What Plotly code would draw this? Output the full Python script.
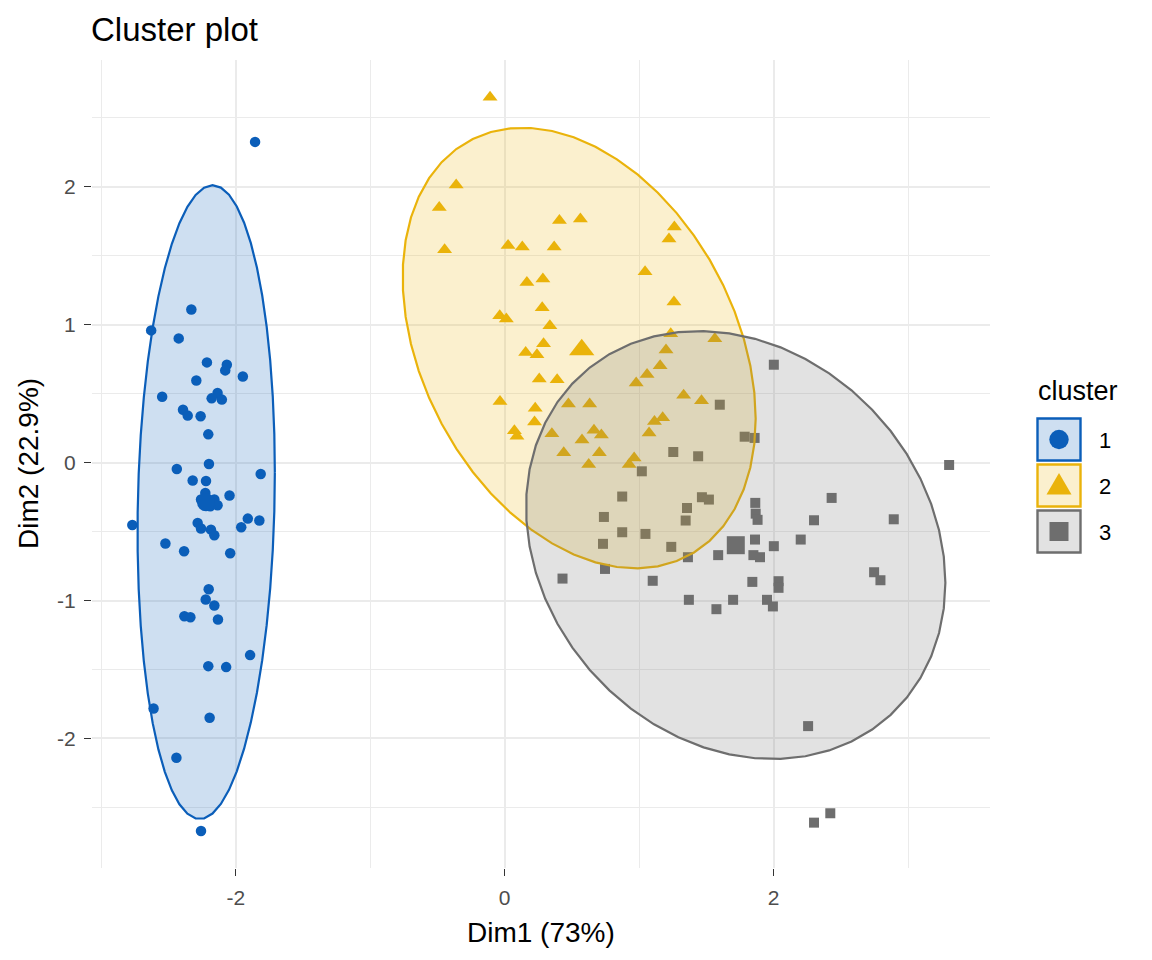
import numpy as np
import plotly.graph_objects as go

# ---------------- data ----------------
c1_x = [-1.857, -2.331, -2.630, -2.425, -2.215, -2.067, -2.079, -1.948, -2.294, -2.548,
        -2.136, -2.180, -2.104, -2.393, -2.358, -2.262, -2.205, -2.200, -2.439, -1.815,
        -2.321, -2.222, -2.227, -2.047, -2.160, -2.136, -2.259, -2.190, -2.770, -2.284,
        -2.259, -2.185, -2.160, -1.911, -1.825, -1.960, -2.524, -2.385, -2.042, -2.202,
        -2.224, -2.160, -2.383, -2.338, -2.133, -1.894, -2.205, -2.072, -2.612, -2.195,
        -2.442, -2.259]
c1_y = [2.326, 1.111, 0.959, 0.901, 0.727, 0.710, 0.669, 0.625, 0.596, 0.478,
        0.505, 0.466, 0.457, 0.384, 0.341, 0.336, 0.205, -0.010, -0.046, -0.082,
        -0.130, -0.133, -0.220, -0.239, -0.268, -0.309, -0.268, -0.316, -0.452, -0.437,
        -0.478, -0.486, -0.527, -0.406, -0.420, -0.469, -0.587, -0.643, -0.657, -0.918,
        -0.993, -1.036, -1.114, -1.121, -1.138, -1.396, -1.476, -1.483, -1.783, -1.850,
        -2.140, -2.672]

c2_x = [-0.109, -0.361, -0.487, 0.407, 0.563, 1.262, 1.222, -0.447, 0.025, 0.131,
        0.368, 1.044, 0.165, 0.284, 1.259, 0.279, -0.037, 0.012, 0.336, 1.235,
        1.563, 0.289, 0.156, 0.240, 1.200, 1.156, 1.059, 0.978, 0.257, 0.390,
        -0.035, 1.331, 1.464, 0.474, 0.632, 0.227, 0.222, 1.114, 1.175, 0.072,
        0.091, 0.351, 0.664, 0.719, 1.074, 0.575, 0.439, 0.704, 0.625, 0.963,
        0.926]
c2_y = [2.650, 2.014, 1.850, 1.756, 1.766, 1.708, 1.621, 1.543, 1.575, 1.563,
        1.563, 1.384, 1.307, 1.331, 1.164, 1.123, 1.065, 1.041, 0.993, 0.935,
        0.899, 0.862, 0.799, 0.783, 0.816, 0.703, 0.640, 0.577, 0.606, 0.601,
        0.444, 0.488, 0.449, 0.425, 0.425, 0.394, 0.295, 0.299, 0.326, 0.232,
        0.191, 0.210, 0.234, 0.200, 0.215, 0.164, 0.072, 0.072, -0.014, 0.034,
        -0.014]

c3_x = [2.002, 1.600, 1.785, 1.859, 1.254, 1.439, 1.020, 0.874, 1.467, 1.519,
        1.864, 1.356, 1.867, 1.881, 0.738, 1.346, 0.874, 1.047, 0.731, 1.239,
        1.862, 1.588, 1.850, 1.899, 2.002, 1.363, 0.746, 0.430, 1.101, 1.842,
        1.370, 1.699, 1.951, 2.037, 2.037, 2.748, 2.795, 1.575, 1.995, 2.257,
        2.422, 2.301, 3.306, 2.432, 2.301, 2.894, 2.202]
c3_y = [0.710, 0.420, 0.188, 0.179, 0.077, 0.046, -0.063, -0.246, -0.251, -0.268,
        -0.292, -0.329, -0.370, -0.415, -0.394, -0.420, -0.505, -0.517, -0.589, -0.611,
        -0.558, -0.671, -0.671, -0.686, -0.606, -0.686, -0.771, -0.841, -0.857, -0.865,
        -0.995, -0.995, -0.995, -0.860, -0.908, -0.795, -0.853, -1.063, -1.043, -1.911,
        -2.543, -2.611, -0.017, -0.256, -0.418, -0.411, -0.558]

centroid_x = [-2.222, 0.573, 1.719]
centroid_y = [-0.288, 0.819, -0.599]

cluster_names = ["1", "2", "3"]
x_ticks = [-2, 0, 2]
x_ticklabels = ["-2", "0", "2"]
y_ticks = [-2, -1, 0, 1, 2]
y_ticklabels = ["-2", "-1", "0", "1", "2"]
x_title = "Dim1 (73%)"
y_title = "Dim2 (22.9%)"
title_text = "Cluster plot"
legend_title = "cluster"

# ---------------- style ----------------
colors = ["#0B5EB9", "#EAB30B", "#6E6E6E"]
fills = ["rgba(11,94,185,0.2)", "rgba(234,179,11,0.2)", "rgba(110,110,110,0.2)"]
symbols = ["circle", "triangle-up", "square"]
sizes = [10.5, 13, 10]
centroid_sizes = [18, 22, 18]
FONT = "Liberation Sans, Arial, Helvetica, sans-serif"

W, H = 1152, 960
L, R, T, B = 92, 162, 60, 92
PW, PH = W - L - R, H - T - B


def xp(px):
    return (px - L) / PW


def yp(py):
    return (H - B - py) / PH


def norm_ellipse(xs, ys, level=0.95, segments=51):
    pts = np.column_stack([xs, ys])
    n = len(pts)
    center = pts.mean(axis=0)
    cov = np.cov(pts.T)
    dfd = n - 1
    qf = (dfd / 2.0) * ((1 - level) ** (-2.0 / dfd) - 1)
    radius = np.sqrt(2 * qf)
    chol = np.linalg.cholesky(cov).T
    t = np.linspace(0, 2 * np.pi, segments + 1)
    uc = np.column_stack([np.cos(t), np.sin(t)])
    e = center + radius * uc @ chol
    return e[:, 0], e[:, 1]


fig = go.Figure()
xs_all = [c1_x, c2_x, c3_x]
ys_all = [c1_y, c2_y, c3_y]

for i in range(3):
    fig.add_trace(go.Scatter(
        x=xs_all[i], y=ys_all[i], mode="markers",
        marker=dict(symbol=symbols[i], size=sizes[i], color=colors[i]),
        showlegend=False, hoverinfo="skip"))
    fig.add_trace(go.Scatter(
        x=[centroid_x[i]], y=[centroid_y[i]], mode="markers",
        marker=dict(symbol=symbols[i], size=centroid_sizes[i], color=colors[i]),
        showlegend=False, hoverinfo="skip"))

for i in range(3):
    ex, ey = norm_ellipse(xs_all[i], ys_all[i])
    fig.add_trace(go.Scatter(
        x=ex, y=ey, mode="lines", fill="toself", fillcolor=fills[i],
        line=dict(color=colors[i], width=2.2),
        showlegend=False, hoverinfo="skip"))

axis_common = dict(
    showline=False, zeroline=False, ticks="outside", ticklen=7, tickwidth=1.1,
    tickcolor="#333333", gridcolor="#EBEBEB", gridwidth=1.6,
    tickfont=dict(family=FONT, size=21, color="#4D4D4D"),
    ticklabelstandoff=4,
)

fig.update_xaxes(range=[-3.07, 3.61], tickmode="array", tickvals=x_ticks,
                 ticktext=x_ticklabels,
                 minor=dict(tickmode="array", tickvals=[-3, -1, 1, 3], showgrid=True,
                            gridcolor="#EBEBEB", gridwidth=0.8, ticks=""),
                 **axis_common)
fig.update_yaxes(range=[-2.94, 2.92], tickmode="array", tickvals=y_ticks,
                 ticktext=y_ticklabels,
                 minor=dict(tickmode="array",
                            tickvals=[-2.5, -1.5, -0.5, 0.5, 1.5, 2.5], showgrid=True,
                            gridcolor="#EBEBEB", gridwidth=0.8, ticks=""),
                 **axis_common)

annotations = [
    dict(text=x_title, x=0.5, y=yp(932), xref="paper", yref="paper",
         xanchor="center", yanchor="middle", showarrow=False,
         font=dict(family=FONT, size=28, color="black")),
    dict(text=y_title, x=xp(28), y=0.5, xref="paper", yref="paper",
         xanchor="center", yanchor="middle", showarrow=False, textangle=-90,
         font=dict(family=FONT, size=28, color="black")),
    dict(text=legend_title, x=xp(1036), y=yp(391), xref="paper", yref="paper",
         xanchor="left", yanchor="middle", showarrow=False,
         font=dict(family=FONT, size=27, color="black")),
]

shapes = []
box_centers = [439.5, 485.5, 531.5]
for i in range(3):
    cy = box_centers[i]
    shapes.append(dict(type="rect", xref="paper", yref="paper",
                       x0=xp(1037.5), x1=xp(1080.5), y0=yp(cy - 21), y1=yp(cy + 21),
                       fillcolor=fills[i], line=dict(color=colors[i], width=2.4),
                       layer="above"))
    annotations.append(dict(text=cluster_names[i], x=xp(1097), y=yp(cy + 1),
                            xref="paper", yref="paper", xanchor="left",
                            yanchor="middle", showarrow=False,
                            font=dict(family=FONT, size=22, color="black")))

# legend glyphs (pixel sized, anchored at key centres)
cx = xp(1059)
shapes.append(dict(type="circle", xref="paper", yref="paper", xsizemode="pixel",
                   ysizemode="pixel", xanchor=cx, yanchor=yp(439.5),
                   x0=-9.7, x1=9.7, y0=-9.7, y1=9.7,
                   fillcolor=colors[0], line=dict(width=0), layer="above"))
shapes.append(dict(type="path", xref="paper", yref="paper", xsizemode="pixel",
                   ysizemode="pixel", xanchor=cx, yanchor=yp(485.5),
                   path="M -12.5 -9 L 12.5 -9 L 0 12.5 Z",
                   fillcolor=colors[1], line=dict(width=0), layer="above"))
shapes.append(dict(type="rect", xref="paper", yref="paper", xsizemode="pixel",
                   ysizemode="pixel", xanchor=cx, yanchor=yp(531.5),
                   x0=-9.5, x1=9.5, y0=-9.5, y1=9.5,
                   fillcolor=colors[2], line=dict(width=0), layer="above"))

fig.update_layout(
    width=W, height=H,
    margin=dict(l=L, r=R, t=T, b=B, autoexpand=False),
    paper_bgcolor="white", plot_bgcolor="white",
    title=dict(text=title_text, x=91 / W, xref="container", xanchor="left",
               y=1 - 29 / H, yref="container", yanchor="middle",
               font=dict(family=FONT, size=33, color="black")),
    annotations=annotations, shapes=shapes, showlegend=False,
)

fig.write_html("out.html")
